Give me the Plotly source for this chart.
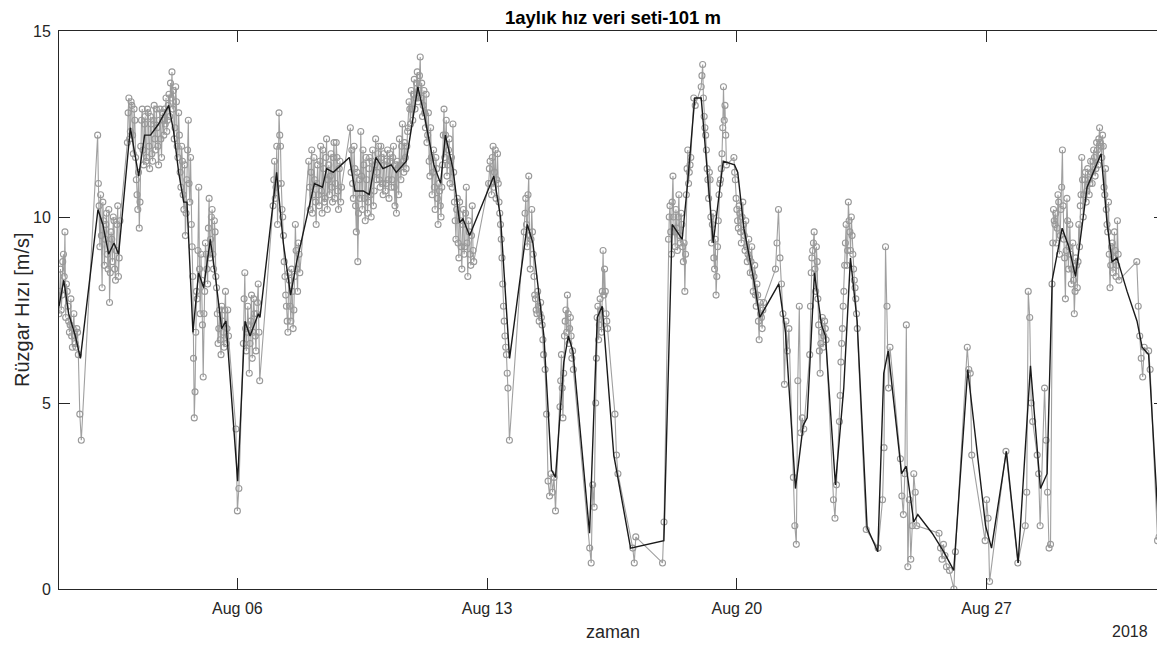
import pandas as pd
import plotly.graph_objects as go

# ---------------- data (hours from 2018-08-01 00:00) ----------------
# gray raw series, on-the-hour samples: (start hour, consecutive hourly values)
seg_start = [0, 26, 46, 119, 124, 144, 168, 196, 289, 313, 337, 357, 374, 386,
             406, 410, 427, 432, 454, 482, 494, 505, 521, 525, 543, 551, 554,
             566, 592, 599, 602, 611, 623, 637, 645, 650, 658, 663, 725, 733,
             739, 742]
seg_values = [
    [7.4, 8.6, 7.9, 9.0, 9.6, 8.2, 7.6, 6.9, 7.8, 6.5, 7.4, 6.6, 7.0, 6.3, 4.7, 4.0],
    [12.2, 10.3, 10.6, 8.1, 9.9, 9.4, 10.1, 8.6, 7.7, 9.6, 8.8, 9.9, 8.3, 9.8, 8.4, 9.9],
    [12.0, 13.2, 12.3, 13.0, 11.7, 12.6, 11.0, 10.2, 9.7, 11.9, 12.9, 11.4, 12.7, 11.6,
     12.8, 11.3, 12.5, 11.5, 13.0, 11.8, 12.4, 11.4, 12.9, 11.6, 12.6, 12.9, 13.2, 12.6,
     13.3, 13.6, 13.9, 13.4, 12.4, 13.1, 11.6, 12.2, 10.8, 11.5, 10.2, 9.5, 11.0, 12.6,
     10.4, 9.8, 8.4, 4.6, 6.9, 7.8, 10.8, 7.4, 8.3, 5.7, 8.0, 9.0, 8.2, 10.5, 9.4, 10.2,
     8.6, 9.6, 8.1, 6.6, 7.5, 6.3, 7.2, 6.5, 8.0, 7.0, 6.8],
    [4.3, 2.1, 2.7],
    [6.6, 8.5, 6.4, 7.6, 5.8, 7.2, 6.2, 7.8, 6.8, 7.4, 8.2, 5.6],
    [10.3, 11.5, 10.8, 9.8, 12.8, 11.9, 10.2, 9.5, 8.4, 7.6, 6.9, 8.3, 7.2, 8.0, 7.5,
     9.8, 8.6, 9.3, 8.5],
    [11.5, 10.2, 11.8, 10.6, 11.0, 9.8, 11.4, 10.3, 11.9, 10.1, 11.3, 10.5, 12.1, 11.0,
     10.6, 11.7, 10.4, 12.0, 10.9, 11.6, 10.2, 11.5, 10.8],
    [12.4, 11.8, 10.5, 11.3, 9.6, 8.8, 11.0, 12.3, 10.2, 11.4, 9.9, 11.0, 10.4, 11.6,
     10.0, 11.8, 10.7, 12.1, 11.2, 11.9,
     10.8, 11.6, 10.6, 11.4, 10.9, 11.8, 10.5, 11.5, 11.0, 11.9, 10.3, 10.1, 11.3, 12.1,
     11.0, 12.5, 11.2, 11.6, 11.9,
     12.4, 12.9, 13.4, 12.6, 13.7, 13.2, 13.9, 13.4, 14.3, 13.6, 13.0,
     12.8, 13.3, 12.2, 11.5, 12.4, 10.6, 11.8, 10.2, 11.3, 9.8, 10.7, 10.0, 11.4, 12.9,
     12.2, 11.1, 11.8, 10.9, 11.6, 12.5, 10.4,
     9.4, 10.5, 8.9, 9.9, 8.6, 10.2, 9.2, 10.8, 8.4, 9.6, 8.7, 10.3, 8.8],
    [10.9, 11.5, 10.6, 11.9, 11.2, 10.5, 11.7, 10.4, 9.8, 8.9, 7.6, 6.8, 6.3, 5.4, 4.0],
    [9.6, 10.5, 9.2, 11.1, 8.6, 10.2, 9.0, 7.9, 7.5, 8.0, 7.2, 7.7, 7.1, 6.3, 5.9, 4.7,
     2.9, 2.5, 3.1, 2.6, 3.0, 2.1],
    [4.9, 6.3, 4.6, 6.8, 7.5, 7.9, 6.6, 7.3, 6.2, 5.9],
    [1.1, 0.7, 2.8, 2.2, 5.0, 7.3, 6.7, 7.8, 6.9, 9.1, 8.6, 7.4, 7.0],
    [4.7, 3.6, 3.1],
    [1.1, 0.7, 1.4],
    [0.7, 1.8],
    [9.4, 10.3, 9.0, 11.1, 9.6, 10.2, 9.1, 10.6, 9.3, 9.8, 8.8, 8.0, 10.6, 11.8, 11.2, 11.6],
    [13.2, 13.0],
    [13.5, 14.1, 12.7, 12.2, 11.3, 10.5, 11.0, 9.3, 10.1, 8.6, 7.9, 9.2, 10.6, 11.0, 11.7,
     13.5, 13.0, 11.4],
    [11.6, 11.0, 10.2, 9.7, 10.1, 9.3, 10.4, 9.5, 9.9, 8.8, 9.4, 8.5, 9.2, 8.0, 8.7, 7.6,
     7.9, 6.7, 7.4, 7.0, 7.7],
    [8.6, 9.3, 10.2, 8.9, 8.2, 7.4, 5.5, 7.2, 6.4, 7.0],
    [3.0, 1.7, 1.2, 5.6, 7.6, 4.2, 4.6, 4.3],
    [6.3, 8.5, 9.1, 9.6, 8.0, 8.8, 7.1, 5.8, 6.9, 6.5, 7.2, 6.7],
    [2.4, 1.9, 2.8],
    [4.5, 6.1, 7.0, 8.0, 9.3, 8.7, 10.4, 9.6, 10.0, 9.0, 8.3, 7.8, 7.0],
    [1.6],
    [1.1],
    [2.4, 3.8, 9.2, 7.6, 5.4, 6.5],
    [3.5, 2.5, 2.0, 3.1, 7.1, 0.6, 2.4, 0.8, 1.7, 3.1, 2.6, 1.7],
    [1.5, 1.1, 0.8, 1.2, 0.9, 0.6],
    [0.5],
    [0.0, 1.0],
    [6.5, 5.9, 5.8, 3.6],
    [1.3, 2.4, 1.9, 0.2],
    [3.7],
    [0.7],
    [1.7, 2.6, 8.0, 7.3, 5.0, 4.5],
    [3.6, 3.1, 1.7],
    [5.4, 4.0, 2.6, 1.1, 1.2, 8.2, 10.2, 9.8, 9.3, 10.6, 9.0, 10.2, 11.8, 9.4, 7.8, 10.5,
     8.6, 9.8, 8.2, 9.3, 7.4, 8.9, 8.1, 9.8, 10.3, 11.6, 10.0, 11.0, 10.4, 11.3, 10.6,
     11.5, 10.9, 11.8, 11.1, 12.0, 11.4, 12.4, 11.9, 12.2, 10.8, 11.3, 9.8, 10.4, 8.1,
     9.2, 8.5, 9.6, 8.4, 9.9, 8.3],
    [8.8, 7.6, 6.8, 6.2, 5.7, 6.5],
    [6.4, 5.9],
    [1.3, 1.4],
    [1.5, 4.4, 5.4],
]

# gray raw series, half-past samples in the dense stretches
half_start = [0.5, 26.5, 46.5, 124.5, 144.5, 168.5, 196.5, 289.5, 313.5, 337.5,
              361.5, 410.5, 432.5, 454.5, 505.5, 525.5, 668.5]
half_values = [
    [8.0, 7.5, 8.8, 8.4, 7.3, 8.0, 7.2, 7.1, 6.8, 7.0, 6.8, 6.5, 6.9],
    [10.9, 9.2, 9.5, 10.4, 8.7, 9.8, 9.0, 10.2, 8.5, 9.4, 10.0, 8.6, 9.1, 10.3, 8.9],
    [12.8, 12.1, 13.1, 12.2, 12.9, 11.6, 10.6, 11.2, 10.4, 12.6, 11.8, 12.5, 11.5, 12.9,
     11.9, 12.7, 11.7, 12.6, 12.1, 12.9, 11.9, 12.6, 12.1, 12.8, 12.2, 12.5, 12.3, 13.0,
     12.7, 13.2, 12.9, 12.1, 13.5, 11.9, 12.8, 11.2, 11.9, 10.6, 11.4, 10.1, 11.8, 10.9,
     11.6, 9.2, 6.2, 5.3, 8.0, 9.1, 8.6, 9.0, 7.1, 7.4, 9.3, 8.6, 9.7, 8.9, 10.0, 9.0,
     9.9, 8.4, 7.4, 7.0, 6.7, 7.6, 6.9, 7.5, 6.6, 7.5],
    [7.8, 7.0, 6.9, 7.1, 6.6, 7.9, 6.9, 7.4, 6.4, 7.7, 6.9],
    [11.0, 10.5, 11.9, 10.9, 12.2, 10.9, 10.0, 8.8, 7.9, 7.2, 8.5, 7.6, 8.6, 7.0, 8.4,
     9.1, 8.0, 9.0],
    [10.8, 11.2, 10.1, 11.6, 10.4, 10.9, 10.6, 11.5, 10.7, 11.8, 10.4, 11.6, 10.2, 11.4,
     11.1, 10.8, 11.6, 10.5, 12.0, 10.7, 11.3, 10.4],
    [11.2, 10.9, 11.9, 10.3, 11.2, 10.1, 10.5, 11.1, 11.8, 10.5, 11.6, 10.1, 11.3, 10.6,
     11.5, 10.3, 11.4, 11.0, 11.7, 11.0,
     11.9, 10.9, 11.7, 10.7, 11.5, 11.0, 11.7, 10.8, 11.6, 10.8, 11.4, 11.5, 10.6, 11.4,
     11.9, 11.5, 12.0, 11.3, 12.3,
     13.1, 12.5, 12.9, 13.3, 12.9, 13.6, 13.1, 13.8, 13.2, 12.7, 13.4,
     12.4, 12.0, 12.8, 11.1, 11.6, 11.2, 10.8, 11.6, 10.5, 10.9, 10.3, 10.8, 12.2, 11.6,
     12.6, 11.4, 12.1, 11.5, 10.8, 11.2, 9.9,
     10.2, 9.3, 10.4, 9.2, 9.8, 9.0, 10.1, 9.3, 9.9, 9.0, 9.5, 9.1],
    [11.3, 10.9, 11.6, 10.8, 11.8, 11.0, 10.9, 10.1, 9.4, 8.2, 7.2, 6.5, 5.8],
    [10.1, 9.8, 10.6, 9.5, 9.4, 9.6, 8.4, 7.8, 7.4, 7.6, 7.4, 7.3, 6.7],
    [5.6, 5.4, 5.8, 7.2, 6.9, 7.4, 7.0, 6.8, 6.4],
    [6.2, 7.6, 7.1, 7.5, 8.0, 7.9, 8.0, 7.2],
    [10.0, 9.6, 10.4, 10.0, 9.2, 9.7, 10.0, 9.5, 10.1, 9.2, 9.3, 9.0, 11.3, 10.9, 11.4],
    [13.8, 13.2, 12.4, 11.8, 11.0, 11.2, 10.0, 9.8, 8.9, 9.4, 8.4, 9.9, 10.9, 11.3, 12.4,
     12.6, 12.2],
    [11.2, 10.5, 9.9, 10.3, 9.6, 10.0, 9.8, 9.1, 9.2, 9.0, 8.9, 8.8, 8.5, 8.4, 7.9, 8.2,
     7.2, 7.7, 7.3, 7.5],
    [7.6, 8.9, 9.3, 8.6, 9.2, 7.8, 6.4, 6.6, 7.3, 6.8, 7.0],
    [5.2, 6.6, 7.6, 8.7, 9.8, 9.1, 9.9, 9.1, 9.5, 8.6, 8.1, 7.4],
    [9.3, 9.9, 10.1, 9.7, 10.4, 9.5, 10.8, 10.3, 8.9, 9.1, 9.9, 9.2, 9.0, 8.6, 8.3, 8.0,
     8.7, 8.8, 9.2, 10.6, 11.0, 10.6, 11.2, 10.7, 11.0, 10.9, 11.2, 11.5, 11.6, 11.3,
     11.8, 12.1, 12.0, 11.6, 11.9, 10.6, 10.2, 9.6, 9.0, 8.7, 9.3, 8.9, 9.1, 8.7, 9.0],
]

# black smoothed series
black_hours = [0, 3.2, 6.5, 11, 14.4, 26.2, 29.5, 33.4, 37, 40.1, 48, 53.6, 57.6, 61.5,
               67, 73.8, 77.1, 80.5, 83.9, 86.1, 90.1, 93.9, 97.3, 101.8, 105.2, 109.4,
               112.3, 120.2, 125.1, 128.5, 134.1, 135.2, 146.4, 150.9, 155.8, 159.9,
               171.8, 177.3, 180, 184.5, 195.3, 199.1, 204.7, 208.7, 213.2, 217.9,
               223.5, 226.9, 233.6, 241.4, 245.9, 252.2, 256.7, 259.9, 265, 269.5,
               271.7, 276.2, 292.5, 297, 303.1, 315, 318.8, 326.2, 331.3, 334, 339.6,
               342.6, 345.7, 356.9, 362.1, 365.4, 373.2, 384.5, 406.9, 412.5, 419.2,
               422.6, 427.7, 432, 440.1, 446.8, 454.4, 456.6, 460.7, 467.4, 471.4,
               484.2, 488.7, 495.4, 500.6, 503.3, 508.2, 512.9, 515.6, 522.3, 527.9,
               532.4, 536.9, 543.6, 550.8, 554.8, 557.8, 566.8, 569.9, 575, 577.7,
               587.4, 595.2, 601.9, 611.3, 623.3, 627.3, 637.3, 645.2, 653.5, 660.2,
               664.7, 668.1, 674.8, 679.3, 683.8, 691.6, 701, 705, 708.4, 711.7, 718.5,
               725.2, 728.6, 733, 739.3, 744]
black_values = [7.6, 8.3, 7.4, 6.8, 6.2, 10.2, 9.8, 9.0, 9.3, 9.0, 12.4, 11.1, 12.2, 12.2,
                12.5, 13.0, 12.3, 11.2, 10.4, 10.4, 6.9, 8.5, 8.1, 9.4, 8.4, 7.0, 7.2, 2.9,
                7.2, 6.8, 7.4, 7.3, 11.2, 9.3, 7.9, 8.8, 10.9, 10.8, 11.3, 11.2, 11.6,
                10.7, 10.7, 10.6, 11.6, 11.3, 11.4, 11.2, 11.5, 13.5, 12.7, 11.4, 10.9,
                12.2, 11.3, 9.85, 9.95, 9.5, 11.1, 10.0, 6.2, 9.8, 9.3, 6.8, 3.2, 3.0,
                6.1, 6.8, 6.4, 1.5, 7.3, 7.6, 3.6, 1.1, 1.3, 9.8, 9.4, 10.8, 13.2, 13.2,
                9.3, 11.5, 11.4, 11.2, 9.7, 8.3, 7.3, 8.2, 6.9, 2.7, 4.4, 4.6, 8.5, 7.1,
                6.8, 2.8, 5.4, 8.9, 7.2, 1.65, 1.0, 5.8, 6.4, 3.1, 3.3, 1.8, 2.0, 1.5,
                1.0, 0.5, 5.9, 1.7, 1.1, 3.7, 0.7, 6.0, 2.7, 3.1, 8.3, 9.7, 9.2, 8.4,
                10.8, 11.7, 9.85, 8.8, 8.9, 8.0, 7.2, 6.5, 6.3, 1.9, 3.2]

x_tick_dates = ["2018-08-06", "2018-08-13", "2018-08-20", "2018-08-27"]
x_tick_labels = ["Aug 06", "Aug 13", "Aug 20", "Aug 27"]
y_ticks = [0, 5, 10, 15]

# ---------------- build ----------------
base = pd.Timestamp("2018-08-01 00:00")
pairs = []
for starts, groups in ((seg_start, seg_values), (half_start, half_values)):
    for s, vals in zip(starts, groups):
        for i, v in enumerate(vals):
            pairs.append((s + i, v))
pairs.sort(key=lambda p: p[0])
gray_h = [p[0] for p in pairs]
gray_v = [p[1] for p in pairs]
gray_t = base + pd.to_timedelta(gray_h, unit="h")
black_t = base + pd.to_timedelta(black_hours, unit="h")

FONT = "Liberation Sans, Arial, Helvetica, sans-serif"
AX = "#262626"

fig = go.Figure()
fig.add_trace(go.Scatter(
    x=gray_t, y=gray_v, mode="lines+markers",
    line=dict(color="#a0a0a0", width=1.1),
    marker=dict(symbol="circle-open", size=6, color="#999999", line=dict(width=1.1)),
    showlegend=False, hoverinfo="skip"))
fig.add_trace(go.Scatter(
    x=black_t, y=black_values, mode="lines",
    line=dict(color="#1a1a1a", width=1.4),
    showlegend=False, hoverinfo="skip"))

# page body has an 8px offset: figure is sized to fill the rest of the window
fig.update_layout(
    width=1157, height=638,
    margin=dict(l=51, r=0, t=23, b=57),
    paper_bgcolor="white", plot_bgcolor="white",
    font=dict(family=FONT, color=AX),
)
fig.update_xaxes(
    type="date", range=["2018-08-01", "2018-09-01"],
    tickvals=x_tick_dates, ticktext=x_tick_labels,
    ticks="inside", ticklen=11, tickwidth=1, tickcolor=AX,
    showline=True, linecolor=AX, linewidth=1, mirror="ticks",
    showgrid=False, zeroline=False, ticklabelstandoff=5,
    tickfont=dict(size=16, color=AX, family=FONT),
)
fig.update_yaxes(
    range=[0, 15], tickvals=y_ticks, ticktext=[str(v) for v in y_ticks],
    ticks="inside", ticklen=11, tickwidth=1, tickcolor=AX,
    showline=True, linecolor=AX, linewidth=1, mirror="ticks",
    showgrid=False, zeroline=False, ticklabelstandoff=4,
    tickfont=dict(size=16, color=AX, family=FONT),
)

fig.add_annotation(text="<b>1aylık hız veri seti-101 m</b>", xref="paper", yref="paper",
                   x=0.501, y=1.025, xanchor="center", yanchor="middle", showarrow=False,
                   font=dict(size=18.5, color="black", family=FONT))
fig.add_annotation(text="zaman", xref="paper", yref="paper",
                   x=0.501, y=-0.077, xanchor="center", yanchor="middle", showarrow=False,
                   font=dict(size=18, color=AX, family=FONT))
fig.add_annotation(text="Rüzgar Hızı [m/s]", xref="paper", yref="paper",
                   x=-0.0335, y=0.5, xanchor="center", yanchor="middle", showarrow=False,
                   textangle=-90, font=dict(size=20, color=AX, family=FONT))
fig.add_annotation(text="2018", xref="paper", yref="paper",
                   x=0.9864, y=-0.077, xanchor="right", yanchor="middle", showarrow=False,
                   font=dict(size=16, color=AX, family=FONT))

fig.write_html("out.html")
